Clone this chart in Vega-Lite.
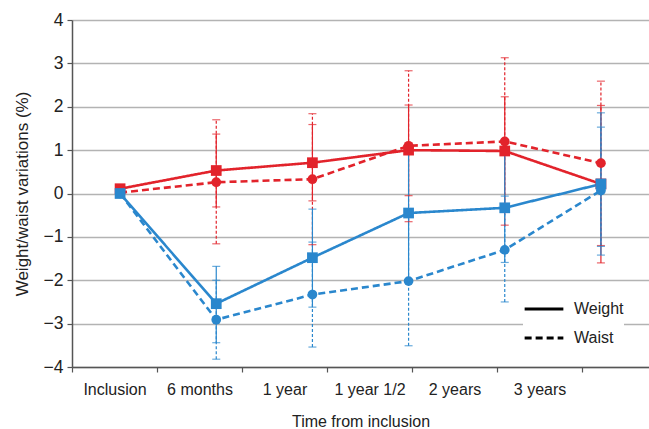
{
  "$schema": "https://vega.github.io/schema/vega-lite/v6.json",
  "width": 577,
  "height": 347,
  "autosize": {"type": "none"},
  "padding": {"left": 72, "top": 20, "right": 0, "bottom": 62},
  "config": {
    "font": "Liberation Sans",
    "view": {"stroke": null},
    "axis": {
      "labelFont": "Liberation Sans",
      "titleFont": "Liberation Sans",
      "labelFontSize": 16,
      "titleFontSize": 16,
      "titleFontWeight": "normal",
      "labelColor": "#222",
      "titleColor": "#222",
      "domainColor": "#555",
      "domainWidth": 1.5,
      "tickColor": "#555",
      "tickWidth": 1.2,
      "tickSize": 5
    }
  },
  "data": {
    "values": [
      {"time": "Inclusion", "group": "Control", "measure": "Weight", "value": 0.11, "lo": null, "hi": null},
      {"time": "6 months", "group": "Control", "measure": "Weight", "value": 0.53, "lo": -0.31, "hi": 1.37},
      {"time": "1 year", "group": "Control", "measure": "Weight", "value": 0.71, "lo": -0.17, "hi": 1.59},
      {"time": "1 year 1/2", "group": "Control", "measure": "Weight", "value": 1.0, "lo": -0.05, "hi": 2.04},
      {"time": "2 years", "group": "Control", "measure": "Weight", "value": 0.98, "lo": -0.27, "hi": 2.23},
      {"time": "3 years", "group": "Control", "measure": "Weight", "value": 0.22, "lo": -1.6, "hi": 2.03},
      {"time": "Inclusion", "group": "Control", "measure": "Waist", "value": 0.02, "lo": null, "hi": null},
      {"time": "6 months", "group": "Control", "measure": "Waist", "value": 0.26, "lo": -1.16, "hi": 1.7},
      {"time": "1 year", "group": "Control", "measure": "Waist", "value": 0.33, "lo": -1.18, "hi": 1.84},
      {"time": "1 year 1/2", "group": "Control", "measure": "Waist", "value": 1.1, "lo": -0.65, "hi": 2.83},
      {"time": "2 years", "group": "Control", "measure": "Waist", "value": 1.2, "lo": -0.73, "hi": 3.13},
      {"time": "3 years", "group": "Control", "measure": "Waist", "value": 0.7, "lo": -1.2, "hi": 2.59},
      {"time": "Inclusion", "group": "SPA", "measure": "Weight", "value": 0.0, "lo": null, "hi": null},
      {"time": "6 months", "group": "SPA", "measure": "Weight", "value": -2.54, "lo": -3.44, "hi": -1.68},
      {"time": "1 year", "group": "SPA", "measure": "Weight", "value": -1.48, "lo": -2.62, "hi": -0.36},
      {"time": "1 year 1/2", "group": "SPA", "measure": "Weight", "value": -0.45, "lo": -2.0, "hi": 1.1},
      {"time": "2 years", "group": "SPA", "measure": "Weight", "value": -0.33, "lo": -1.59, "hi": 0.93},
      {"time": "3 years", "group": "SPA", "measure": "Weight", "value": 0.22, "lo": -1.42, "hi": 1.86},
      {"time": "Inclusion", "group": "SPA", "measure": "Waist", "value": 0.0, "lo": null, "hi": null},
      {"time": "6 months", "group": "SPA", "measure": "Waist", "value": -2.91, "lo": -3.82, "hi": -2.0},
      {"time": "1 year", "group": "SPA", "measure": "Waist", "value": -2.33, "lo": -3.54, "hi": -1.12},
      {"time": "1 year 1/2", "group": "SPA", "measure": "Waist", "value": -2.02, "lo": -3.51, "hi": -0.53},
      {"time": "2 years", "group": "SPA", "measure": "Waist", "value": -1.3, "lo": -2.5, "hi": -0.06},
      {"time": "3 years", "group": "SPA", "measure": "Waist", "value": 0.07, "lo": -1.22, "hi": 1.53}
    ]
  },
  "layer": [
    {
      "mark": {"type": "point", "opacity": 0},
      "encoding": {
        "x": {
          "field": "time", "type": "nominal",
          "scale": {"type": "band", "domain": ["Inclusion", "6 months", "1 year", "1 year 1/2", "2 years", "3 years"], "paddingInner": 0, "paddingOuter": 0.394, "align": 0},
          "axis": {"title": "Time from inclusion", "labelAngle": 0, "tickBand": "extent", "grid": false, "labelPadding": 9, "titlePadding": 16}
        }
      }
    },
    {
      "layer": [
        {
          "transform": [{"filter": "datum.lo != null"}],
          "mark": {"type": "rule", "strokeWidth": 1.2},
          "encoding": {
            "x": {"field": "time", "type": "nominal", "axis": null},
            "y": {"field": "lo", "type": "quantitative"},
            "y2": {"field": "hi"},
            "color": {"field": "group", "type": "nominal", "legend": null},
            "strokeDash": {"condition": {"test": "datum.measure == 'Waist'", "value": [3, 2]}, "value": [1, 0]}
          }
        },
        {
          "transform": [{"filter": "datum.lo != null"}],
          "mark": {"type": "tick", "size": 8, "thickness": 1.2},
          "encoding": {
            "x": {"field": "time", "type": "nominal", "axis": null},
            "y": {"field": "lo", "type": "quantitative"},
            "color": {"field": "group", "type": "nominal", "legend": null}
          }
        },
        {
          "transform": [{"filter": "datum.lo != null"}],
          "mark": {"type": "tick", "size": 8, "thickness": 1.2},
          "encoding": {
            "x": {"field": "time", "type": "nominal", "axis": null},
            "y": {"field": "hi", "type": "quantitative"},
            "color": {"field": "group", "type": "nominal", "legend": null}
          }
        },
        {
          "mark": {"type": "line", "strokeWidth": 2.6},
          "encoding": {
            "x": {"field": "time", "type": "nominal", "axis": null},
            "y": {"field": "value", "type": "quantitative"},
            "color": {"field": "group", "type": "nominal", "legend": null},
            "strokeDash": {
              "field": "measure", "type": "nominal",
              "scale": {"domain": ["Weight", "Waist"], "range": [[1, 0], [7, 4]]},
              "legend": {
                "title": null, "orient": "none", "legendX": 451, "legendY": 268,
                "symbolType": "stroke", "symbolStrokeColor": "black", "symbolStrokeWidth": 3,
                "symbolSize": 1500, "labelFontSize": 16, "labelColor": "#222", "labelFont": "Liberation Sans",
                "fillColor": "white", "padding": 0, "rowPadding": -16, "labelOffset": 9
              }
            }
          }
        },
        {
          "mark": {"type": "point", "filled": true, "opacity": 1},
          "encoding": {
            "x": {"field": "time", "type": "nominal", "axis": null},
            "y": {"field": "value", "type": "quantitative"},
            "color": {"field": "group", "type": "nominal", "legend": null},
            "shape": {"condition": {"test": "datum.measure == 'Weight'", "value": "square"}, "value": "circle"},
            "size": {"condition": {"test": "datum.measure == 'Weight'", "value": 115}, "value": 95}
          }
        },
        {
          "data": {"values": [{"label": "Control group", "time": "Inclusion", "y": 2.65}]},
          "mark": {"type": "text", "align": "left", "baseline": "middle", "dx": -17, "fontSize": 16, "color": "#e2232b"},
          "encoding": {
            "x": {"field": "time", "type": "nominal", "axis": null},
            "y": {"field": "y", "type": "quantitative"},
            "text": {"field": "label"}
          }
        },
        {
          "data": {"values": [{"label": "SPA group", "time": "Inclusion", "y": -2.37}]},
          "mark": {"type": "text", "align": "left", "baseline": "middle", "dx": -20, "fontSize": 16, "color": "#2a87cd"},
          "encoding": {
            "x": {"field": "time", "type": "nominal", "axis": null},
            "y": {"field": "y", "type": "quantitative"},
            "text": {"field": "label"}
          }
        },
        {
          "data": {"values": [{"label": "GAIN", "time": "Inclusion", "y": 3.42}]},
          "mark": {"type": "text", "align": "center", "baseline": "middle", "angle": 270, "dx": -102, "fontSize": 16, "color": "#e2232b"},
          "encoding": {
            "x": {"field": "time", "type": "nominal", "axis": null},
            "y": {"field": "y", "type": "quantitative"},
            "text": {"field": "label"}
          }
        },
        {
          "data": {"values": [{"label": "LOSS", "time": "Inclusion", "y": -3.27}]},
          "mark": {"type": "text", "align": "center", "baseline": "middle", "angle": 270, "dx": -102, "fontSize": 16, "color": "#1fa85a"},
          "encoding": {
            "x": {"field": "time", "type": "nominal", "axis": null},
            "y": {"field": "y", "type": "quantitative"},
            "text": {"field": "label"}
          }
        }
      ],
      "encoding": {
        "x": {"field": "time", "type": "nominal", "scale": {"type": "point", "padding": 0.5, "domain": ["Inclusion", "6 months", "1 year", "1 year 1/2", "2 years", "3 years"]}, "axis": null},
        "y": {
          "type": "quantitative",
          "scale": {"domain": [-4, 4], "nice": false, "zero": false},
          "axis": {"title": "Weight/waist variations (%)", "titleFontSize": 17, "labelFontSize": 17.5, "values": [-4, -3, -2, -1, 0, 1, 2, 3, 4], "grid": true, "gridColor": "#b3b3b3", "gridWidth": 1.3, "labelPadding": 4, "titlePadding": 12}
        },
        "color": {"field": "group", "type": "nominal", "scale": {"domain": ["Control", "SPA"], "range": ["#e2232b", "#2a87cd"]}, "legend": null}
      }
    }
  ],
  "resolve": {"scale": {"x": "independent"}, "axis": {"x": "independent"}}
}
